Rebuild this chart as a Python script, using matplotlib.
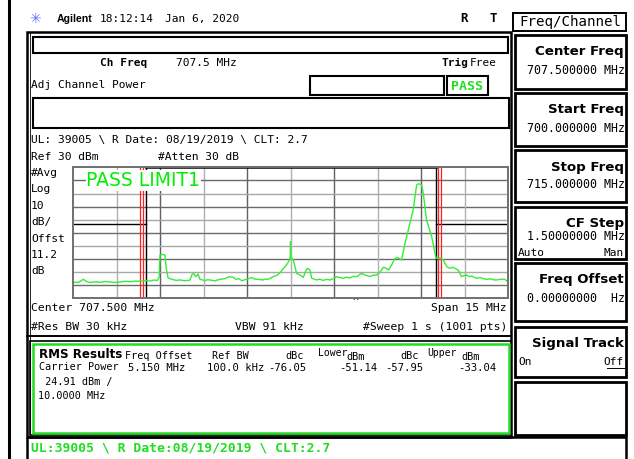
import matplotlib
matplotlib.use('Agg')
import matplotlib.pyplot as plt
from matplotlib.patches import Rectangle

# trace (MHz, dBm)
freq_mhz = [700.00, 700.10, 700.17, 700.28, 700.36, 700.45, 700.59, 700.75, 700.93, 701.10,
            701.28, 701.45, 701.62, 701.80, 701.97, 702.15, 702.31, 702.50, 702.66, 702.80,
            702.90, 702.97, 703.00, 703.07, 703.17, 703.22, 703.28, 703.41, 703.55, 703.69,
            703.85, 704.03, 704.10, 704.16, 704.24, 704.31, 704.38, 704.55, 704.64, 704.72,
            704.90, 705.00, 705.07, 705.24, 705.38, 705.52, 705.62, 705.72, 705.82, 705.97,
            706.16, 706.25, 706.34, 706.55, 706.64, 706.72, 706.91, 707.03, 707.14, 707.24,
            707.31, 707.38, 707.46, 707.49, 707.50, 707.51, 707.53, 707.60, 707.71, 707.83,
            707.94, 708.03, 708.08, 708.17, 708.23, 708.40, 708.50, 708.62, 708.75, 708.86,
            709.00, 709.09, 709.20, 709.32, 709.45, 709.55, 709.66, 709.78, 709.95, 710.10,
            710.24, 710.35, 710.47, 710.59, 710.70, 710.80, 710.88, 711.00, 711.10, 711.21,
            711.33, 711.45, 711.62, 711.73, 711.85, 711.93, 712.02, 712.08, 712.19, 712.37,
            712.52, 712.66, 712.77, 712.89, 713.00, 713.08, 713.17, 713.28, 713.40, 713.50,
            713.57, 713.66, 713.74, 713.85, 713.92, 714.05, 714.15, 714.26, 714.40, 714.50,
            714.61, 714.75, 714.89, 715.00]
level_dbm = [-58.1, -57.6, -58.0, -56.5, -55.5, -57.0, -58.0, -57.4, -57.8, -57.2,
             -57.5, -57.9, -57.6, -57.0, -57.3, -56.9, -57.0, -56.4, -56.8, -56.0,
             -56.5, -54.0, -37.0, -36.5, -37.0, -48.0, -54.5, -55.5, -56.3, -56.0,
             -56.6, -56.2, -52.0, -51.0, -53.5, -51.5, -55.5, -56.5, -55.8, -56.0,
             -56.7, -55.9, -55.5, -55.0, -53.5, -54.0, -55.5, -55.0, -56.6, -55.5,
             -54.2, -55.2, -55.5, -56.0, -55.3, -55.5, -53.5, -52.5, -50.5, -47.5,
             -45.9, -44.0, -40.8, -38.0, -26.8, -37.0, -39.0, -40.8, -51.0, -52.2,
             -54.0, -49.0, -47.1, -48.4, -54.7, -56.0, -55.4, -56.3, -55.6, -56.0,
             -54.8, -53.5, -54.2, -54.7, -53.9, -54.5, -53.2, -53.5, -51.0, -52.5,
             -53.3, -52.4, -52.2, -50.0, -46.3, -47.0, -48.4, -44.0, -39.5, -39.0,
             -40.8, -28.0, -12.7, -2.6, 16.5, 17.5, 16.5, 10.2, -10.2, -23.0,
             -39.5, -39.0, -40.8, -45.9, -47.1, -46.3, -47.1, -48.4, -53.5, -52.6,
             -52.2, -53.4, -53.0, -54.1, -54.7, -54.2, -55.0, -55.5, -55.1, -55.9,
             -56.0, -55.4, -55.5, -57.5]

center_mhz = 707.5
span_mhz = 15
ref_dbm = 30
db_per_div = 10
chan_bw_mhz = 10
offset_mhz = 5.15
ref_bw_mhz = 0.1
chan_limit_dbm = 30
adj_limit_dbm = -13

W, H = 634, 459
fig = plt.figure(figsize=(W / 100, H / 100), dpi=100)
ui = fig.add_axes([0, 0, 1, 1])
ui.set_xlim(0, W)
ui.set_ylim(H, 0)
ui.axis('off')

MONO = 'DejaVu Sans Mono'
SANS = 'DejaVu Sans'
GREEN = '#22dd22'


def txt(x, y, s, size=8, bold=False, color='black', ha='left', family=MONO):
    return ui.text(x, y + 1, s, fontsize=size, fontweight='bold' if bold else 'normal',
                   color=color, ha=ha, va='center', family=family)


def box(x0, y0, x1, y1, lw=1.5, color='black'):
    ui.add_patch(Rectangle((x0, y0), x1 - x0, y1 - y0, fill=False, lw=lw, ec=color))


# frame lines
ui.plot([8.5, 8.5], [0, H], color='black', lw=2.2)
box(27, 32, 511, 437, lw=1.8)
ui.plot([30, 30], [32, 437], color='black', lw=0.6)
ui.plot([27, 511], [336, 336], color='black', lw=1.4)

# header
txt(35, 18, '\u2733', size=10, color='#6a6aff', ha='center', family=SANS)
txt(57, 18, 'Agilent', size=7.6, bold=True, family='Liberation Sans')
txt(100, 18, '18:12:14', size=8)
txt(165, 18, 'Jan 6, 2020', size=8)
txt(460, 18, 'R', size=9, bold=True)
txt(489, 18, 'T', size=9, bold=True)

box(33, 37, 508, 53)
txt(100, 62, 'Ch Freq', size=8, bold=True)
txt(176, 62, '707.5 MHz', size=8)
txt(441, 62, 'Trig', size=8, bold=True)
txt(470, 62, 'Free', size=8)
txt(31, 84, 'Adj Channel Power', size=8)
box(310, 76, 444, 95)
box(447, 76, 488, 95)
txt(467.5, 85, 'PASS', size=9.5, bold=True, color=GREEN, ha='center')
box(33, 98, 509, 128)

txt(31, 139, 'UL: 39005 \\ R Date: 08/19/2019 \\ CLT: 2.7', size=8.1)
txt(31, 156, 'Ref 30 dBm', size=8.1)
txt(158, 156, '#Atten 30 dB', size=8.1)
for i, s in enumerate(['#Avg', 'Log', '10', 'dB/', 'Offst', '11.2', 'dB']):
    txt(31, 172 + i * 16.4, s, size=8.1)

txt(31, 307, 'Center 707.500 MHz', size=8.2)
txt(507, 307, 'Span 15 MHz', size=8.2, ha='right')
txt(356, 301, '^', size=7, ha='center')
txt(31, 326, '#Res BW 30 kHz', size=8.2)
txt(235, 326, 'VBW 91 kHz', size=8.2)
txt(507, 326, '#Sweep 1 s (1001 pts)', size=8.2, ha='right')

# RMS results box
ui.add_patch(Rectangle((30, 341), 481, 94, fill=False, lw=1.2, ec='black'))
ui.add_patch(Rectangle((32.5, 343.5), 476, 89, fill=False, lw=1.8, ec=GREEN))
txt(39, 353, 'RMS Results', size=8.6, bold=True, family=SANS)
txt(125, 355, 'Freq Offset', size=7.3)
txt(212, 355, 'Ref BW', size=7.3)
txt(285, 355, 'dBc', size=7.3)
txt(318, 352, 'Lower', size=7)
txt(346, 356.5, 'dBm', size=7.3)
txt(400, 355, 'dBc', size=7.3)
txt(427, 352, 'Upper', size=7)
txt(461, 356.5, 'dBm', size=7.3)
txt(39, 366, 'Carrier Power', size=7.3)
txt(128, 367, '5.150 MHz', size=7.6)
txt(207, 367, '100.0 kHz', size=7.6)
txt(306, 367, '-76.05', size=7.6, ha='right')
txt(377, 367, '-51.14', size=7.6, ha='right')
txt(423, 367, '-57.95', size=7.6, ha='right')
txt(496, 367, '-33.04', size=7.6, ha='right')
txt(39, 381, ' 24.91 dBm /', size=7.3)
txt(38, 395, '10.0000 MHz', size=7.3)

# status line
box(27, 437, 626, 470, lw=1.8)
txt(31, 447, 'UL:39005 \\ R Date:08/19/2019 \\ CLT:2.7', size=9.4, bold=True, color=GREEN)

# softkeys
box(513, 13, 626, 31, lw=1.4)
txt(570, 21, 'Freq/Channel', size=10.2, ha='center')
keys = [(35, 89, 'Center Freq', '707.500000 MHz'),
        (93, 146, 'Start Freq', '700.000000 MHz'),
        (150, 202, 'Stop Freq', '715.000000 MHz'),
        (207, 259, 'CF Step', '1.50000000 MHz'),
        (263, 321, 'Freq Offset', '0.00000000  Hz'),
        (327, 377, 'Signal Track', None),
        (382, 435, None, None)]
for y0, y1, name, val in keys:
    box(515, y0, 626, y1, lw=2.0)
    if name:
        txt(624, y0 + 16, name, size=9.6, bold=True, family=SANS, ha='right')
    if val:
        txt(625, y0 + 34 if name != 'CF Step' else y0 + 29, val, size=8.4, ha='right')
txt(518, 252, 'Auto', size=8)
txt(624, 252, 'Man', size=8, ha='right')
ui.plot([518, 537], [259, 259], color='black', lw=0.7)
txt(518, 361, 'On', size=8)
txt(624, 361, 'Off', size=8, ha='right')
ui.plot([607, 624], [368, 368], color='black', lw=0.7)

# graticule
lo = center_mhz - span_mhz / 2
hi = center_mhz + span_mhz / 2
bottom = ref_dbm - 10 * db_per_div
ax = fig.add_axes([73 / W, 1 - 298.3 / H, 435 / W, 131 / H])
ax.set_xlim(lo, hi)
ax.set_ylim(bottom, ref_dbm)
ax.set_xticks([])
ax.set_yticks([])
for s in ax.spines.values():
    s.set_color('#707070')
    s.set_linewidth(1.4)
for i in range(1, 10):
    c = '#b0b0b0' if i % 2 else '#606060'
    ax.axvline(lo + i * span_mhz / 10, color=c, lw=1.0)
    ax.axhline(bottom + i * db_per_div, color='#a8a8a8' if i % 2 == 0 else '#6a6a6a', lw=1.0)

lower_edge = center_mhz - chan_bw_mhz / 2
upper_edge = center_mhz + chan_bw_mhz / 2
ax.plot([lo, lower_edge], [adj_limit_dbm] * 2, color='black', lw=1.0)
ax.plot([upper_edge, hi], [adj_limit_dbm] * 2, color='black', lw=1.0)
ax.plot([lower_edge, upper_edge], [chan_limit_dbm] * 2, color='black', lw=1.8, clip_on=False)
ax.axvline(lower_edge, color='black', lw=1.0)
ax.axvline(upper_edge, color='black', lw=1.0)
for off in (-offset_mhz, offset_mhz):
    for d in (-ref_bw_mhz / 2, ref_bw_mhz / 2):
        ax.axvline(center_mhz + off + d, color='#ff2020', lw=0.9)

ax.plot(freq_mhz, level_dbm, color='#33ee33', lw=1.0)
ax.text(0.031, 0.9, 'PASS LIMIT1', transform=ax.transAxes, fontsize=13.5, color='#00ee00',
        family=['Liberation Sans Narrow', 'DejaVu Sans'], va='center', ha='left',
        bbox=dict(facecolor='white', edgecolor='none', pad=0.5))

fig.savefig('out.png', dpi=100)
